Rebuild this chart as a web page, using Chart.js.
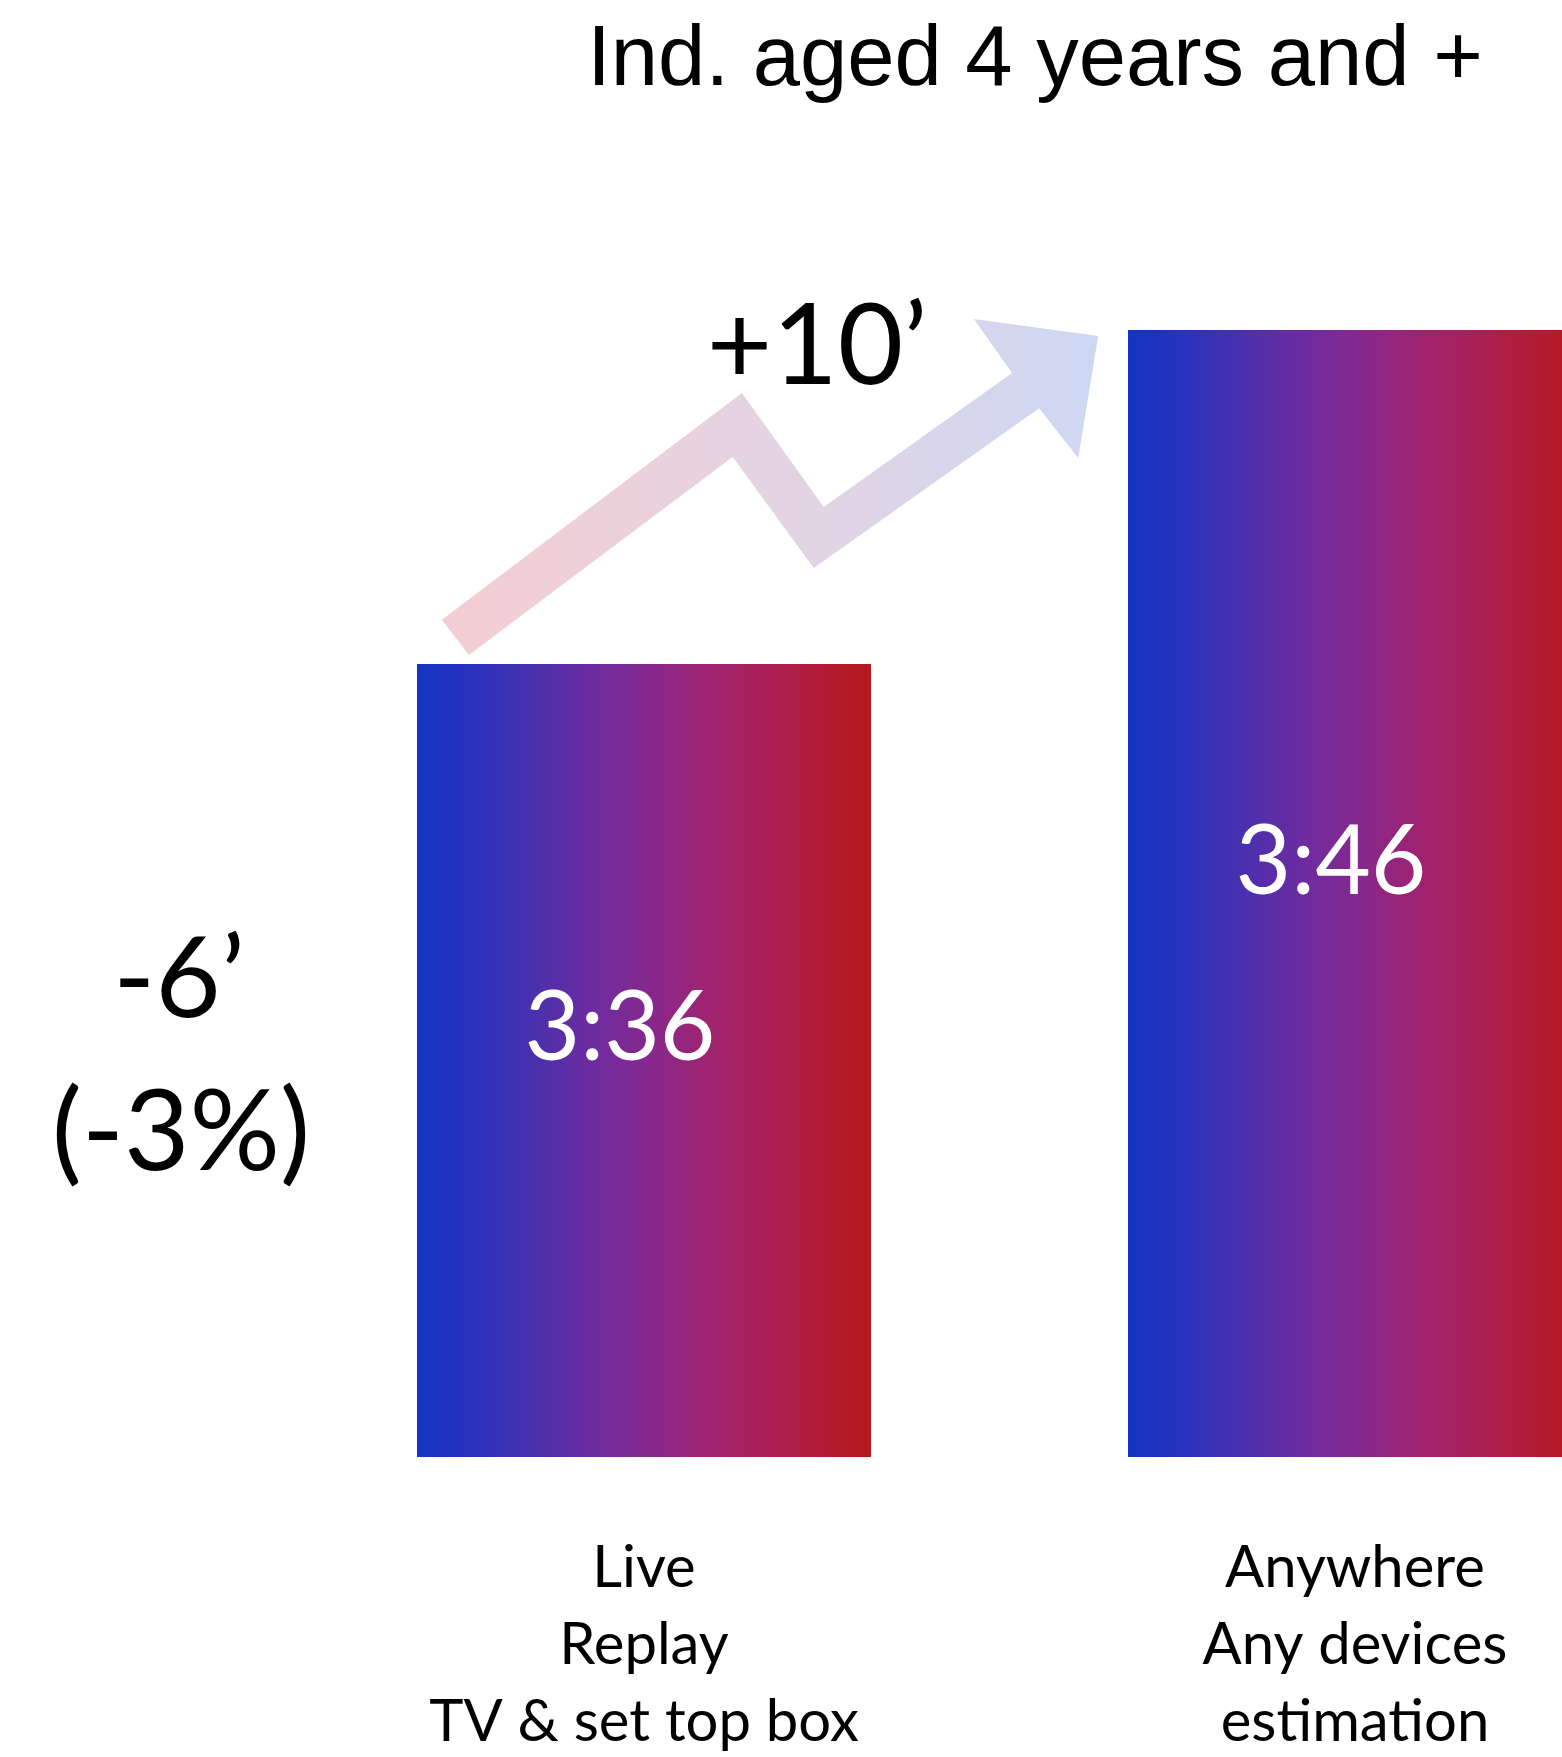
<!DOCTYPE html>
<html>
<head>
<meta charset="utf-8">
<script src="https://cdn.jsdelivr.net/npm/chart.js@4.4.1/dist/chart.umd.min.js"></script>
<style>
  html, body { margin: 0; padding: 0; background: #ffffff; }
  #wrap { width: 1562px; height: 1757px; position: relative; }
  canvas { display: block; }
</style>
</head>
<body>
<div id="wrap"><canvas id="chart" width="1562" height="1757"></canvas></div>
<script>
// Daily viewing time, in minutes, for the two ways of counting
const categories = [
  ['Live', 'Replay', 'TV & set top box'],
  ['Anywhere', 'Any devices', 'estimation']
];
const minutesPerDay = [216, 226];

// Value axis window (minutes)
const axisMin = 192.25;
const axisMax = 226;

// Texts around the bars
const chartTitle = 'Ind. aged 4 years and +';
const gainLabel = '+10\u2019';
const lossLabels = ['-6\u2019', '(-3%)'];

// Colours
const barStops = ['#1234C4', '#2A32BC', '#4830AF', '#6A2CA0', '#842890', '#9C2474', '#A9205A', '#B11C3A', '#B6181A'];
const arrowStops = ['#F4CDD2', '#E4D3E1', '#CDD7F3'];

// Zig-zag arrow outline, in units of the span between the two bar tops
// (u: 0 = left edge of first bar, 1 = left edge of second bar; v: 0 = first top, 1 = second top)
const arrowOutline = [
  [0.035, 0.132], [0.457, 0.811], [0.572, 0.470], [0.837, 0.871],
  [0.783, 1.033], [0.958, 0.982], [0.930, 0.617], [0.875, 0.766],
  [0.558, 0.287], [0.444, 0.620], [0.073, 0.027]
];

function asClock(m) {
  return Math.floor(m / 60) + ':' + String(m % 60).padStart(2, '0');
}

function barFill(c) {
  const chart = c.chart;
  const xs = chart.scales && chart.scales.x;
  if (c.dataIndex === undefined || !chart.chartArea || !xs) return barStops[4];
  const ds = c.dataset;
  const centre = xs.getPixelForValue(c.dataIndex);
  const step = Math.abs(xs.getPixelForValue(1) - xs.getPixelForValue(0)) || xs.width;
  const half = step * ds.categoryPercentage * ds.barPercentage / 2;
  const g = chart.ctx.createLinearGradient(centre - half, 0, centre + half, 0);
  barStops.forEach((col, i) => g.addColorStop(i / (barStops.length - 1), col));
  return g;
}

const decorations = {
  id: 'decorations',
  afterDatasetsDraw(chart) {
    const ctx = chart.ctx;
    const bars = chart.getDatasetMeta(0).data;
    const b0 = bars[0], b1 = bars[1];
    const ax = b0.x - b0.width / 2, ay = b0.y;
    const bx = b1.x - b1.width / 2, by = b1.y;
    const P = (u, v) => [ax + u * (bx - ax), ay + v * (by - ay)];

    ctx.save();

    // rising arrow between the bars
    const pts = arrowOutline.map(([u, v]) => P(u, v));
    const xsArr = pts.map(p => p[0]);
    const grad = ctx.createLinearGradient(Math.min(...xsArr), 0, Math.max(...xsArr), 0);
    arrowStops.forEach((col, i) => grad.addColorStop(i / (arrowStops.length - 1), col));
    ctx.beginPath();
    pts.forEach((p, i) => i ? ctx.lineTo(p[0], p[1]) : ctx.moveTo(p[0], p[1]));
    ctx.closePath();
    ctx.fillStyle = grad;
    ctx.fill();

    // value labels inside the bars
    ctx.fillStyle = '#ffffff';
    ctx.font = '96px Lato';
    ctx.textAlign = 'center';
    ctx.textBaseline = 'alphabetic';
    bars.forEach((el, i) => {
      const mid = (el.y + el.base) / 2;
      ctx.fillText(asClock(minutesPerDay[i]), el.x - 24, mid);
    });

    // change annotations
    ctx.fillStyle = '#000000';
    ctx.font = '113px Lato';
    const g = P(0.5626, 0.838);
    ctx.fillText(gainLabel, g[0], g[1]);
    ctx.fillText(lossLabels[0], ax - 238, 1017);
    ctx.fillText(lossLabels[1], ax - 236, 1170);

    // heading
    ctx.font = '85px "Liberation Sans", Arial, sans-serif';
    ctx.fillText(chartTitle, 1035, 85);

    ctx.restore();
  }
};

function build() {
  const ctx = document.getElementById('chart').getContext('2d');
  new Chart(ctx, {
    type: 'bar',
    data: {
      labels: categories,
      datasets: [{
        data: minutesPerDay,
        base: axisMin,
        backgroundColor: barFill,
        borderWidth: 0,
        categoryPercentage: 1,
        barPercentage: 0.6385,
        clip: false
      }]
    },
    options: {
      responsive: false,
      animation: false,
      devicePixelRatio: 1,
      layout: { padding: { left: 644, right: 207, top: 330, bottom: 0 } },
      plugins: {
        legend: { display: false },
        tooltip: { enabled: false },
        title: { display: false }
      },
      scales: {
        x: {
          offset: false,
          grid: { display: false, drawTicks: false },
          border: { display: false },
          afterFit(scale) {
            // fixed band below the bars; the side margins come from the layout padding
            scale.height = 300;
            scale.paddingLeft = 0;
            scale.paddingRight = 0;
          },
          ticks: {
            color: '#000000',
            font: { family: 'Lato', size: 58, lineHeight: 77 / 58 },
            padding: 73,
            maxRotation: 0,
            minRotation: 0,
            autoSkip: false
          }
        },
        y: { display: false, min: axisMin, max: axisMax }
      }
    },
    plugins: [decorations]
  });
}

Promise.all([
  document.fonts.load('58px Lato'),
  document.fonts.load('113px Lato'),
  document.fonts.load('85px "Liberation Sans"')
]).then(build, build);
</script>
</body>
</html>
